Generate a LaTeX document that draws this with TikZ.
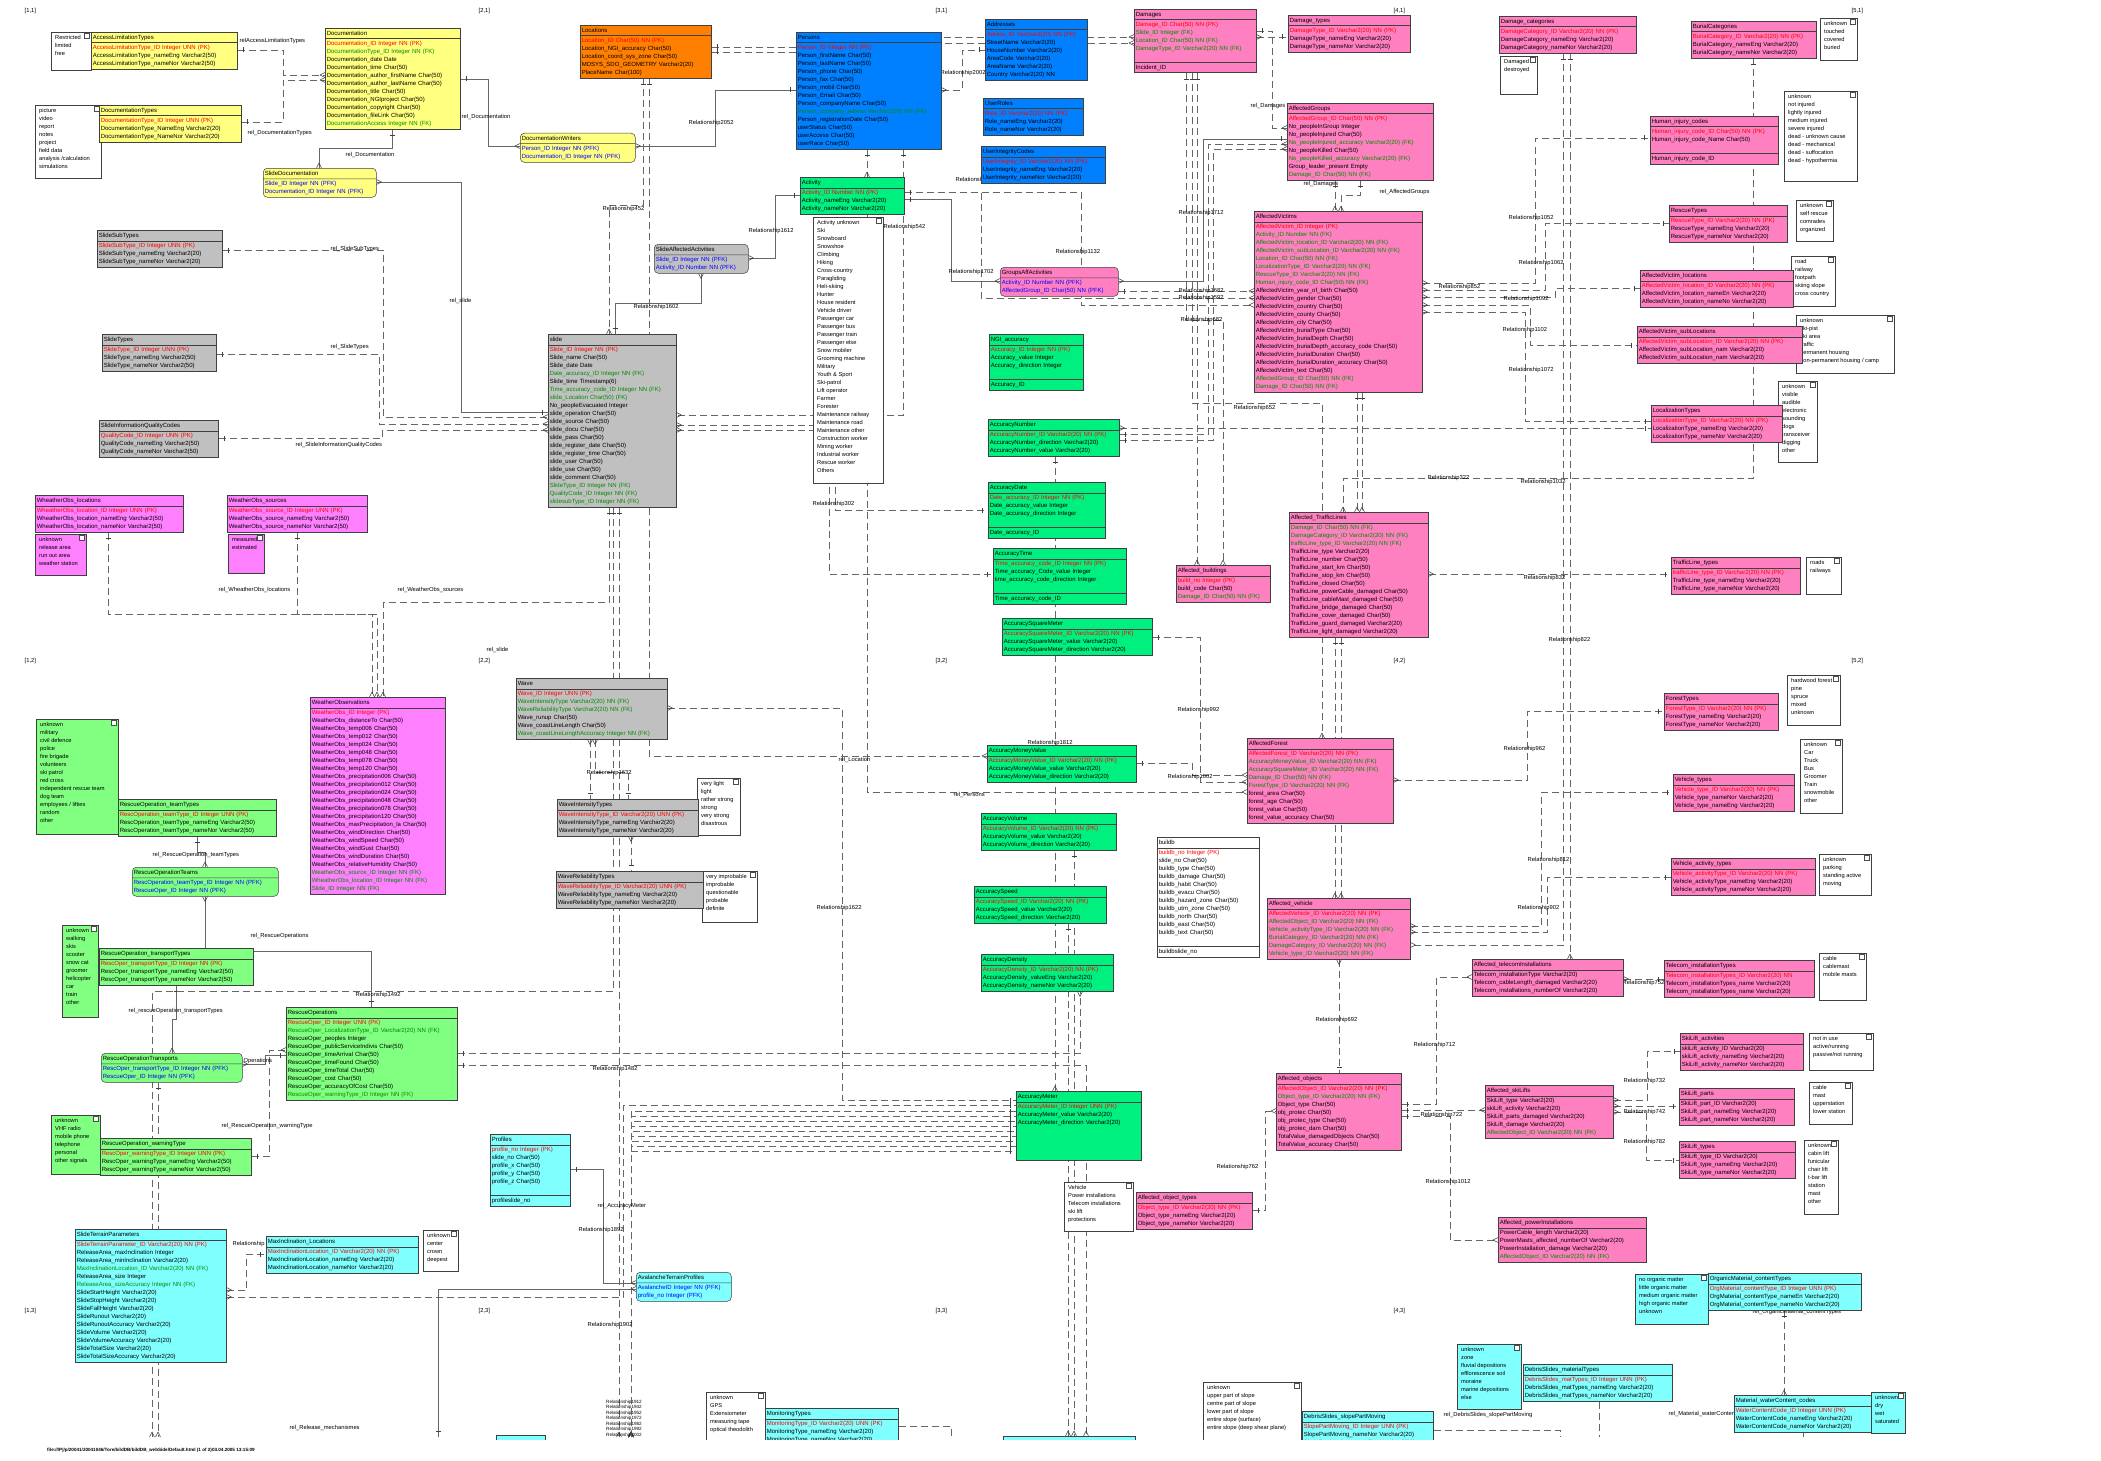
\documentclass[tikz,border=0pt]{standalone}
\usepackage{fontspec}
\setmainfont{Liberation Sans}
\usetikzlibrary{shapes.multipart,backgrounds,decorations.markings}
\definecolor{cY}{HTML}{FFFF80}
\definecolor{cOr}{HTML}{FF8000}
\definecolor{cBu}{HTML}{0080FF}
\definecolor{cG}{HTML}{00F080}
\definecolor{cLG}{HTML}{80FF80}
\definecolor{cPi}{HTML}{FF80C0}
\definecolor{cMa}{HTML}{FF80FF}
\definecolor{cCy}{HTML}{80FFFF}
\definecolor{cGr}{HTML}{C0C0C0}
\definecolor{cPK}{HTML}{FF0000}
\definecolor{cFK}{HTML}{008C00}
\definecolor{cBL}{HTML}{0000FF}
\newcommand\tfont{\fontsize{6}{8}\selectfont}
\newcommand\lfont{\fontsize{5.8}{7}\selectfont}
\newcommand\sfont{\fontsize{4.6}{5.5}\selectfont}
\newcommand\nfont{\fontsize{5.7}{8}\selectfont}
\newcommand\rA[1]{\mbox{\strut#1}}
\newcommand\rP[1]{\mbox{\strut\color{cPK}#1}}
\newcommand\rF[1]{\mbox{\strut\color{cFK}#1}}
\newcommand\rB[1]{\mbox{\strut\color{cBL}#1}}
\newcommand\rE{\mbox{\strut}}
\tikzset{
  tb/.style={rectangle split, rectangle split parts=2, draw=black!75, line width=0.5pt,
    anchor=north west, inner xsep=1.5pt, inner ysep=1pt, align=left, font=\tfont},
  tbk/.style={tb, rectangle split parts=3},
  Y/.style={fill=cY}, Or/.style={fill=cOr}, Bu/.style={fill=cBu}, G/.style={fill=cG},
  LG/.style={fill=cLG}, Pi/.style={fill=cPi}, Ma/.style={fill=cMa}, Cy/.style={fill=cCy},
  Gr/.style={fill=cGr}, W/.style={fill=white},
  rnd/.style={rounded corners=4pt},
  nbox/.style={draw=black!75, line width=0.5pt, anchor=north west, inner sep=0pt, rectangle},
  ntext/.style={anchor=north west, inner sep=0pt, align=left, font=\nfont},
  icon/.style={draw=black!70, fill=white, line width=0.4pt},
  lbl/.style={anchor=west, inner sep=0.5pt, font=\lfont},
  slbl/.style={anchor=west, inner sep=0pt, font=\sfont},
  rel/.style={draw=black!60, line width=0.6pt, dash pattern=on 7pt off 4pt},
  srel/.style={draw=black!60, line width=0.6pt},
  mk/.style={solid, draw=black!75, line width=0.5pt},
  pks/.style={postaction={decorate,decoration={markings,
     mark=at position 6pt with {\draw[mk] (0pt,-2.5pt)--(0pt,2.5pt);},
     mark=at position 1 with {\draw[mk] (-5pt,0pt)--(0pt,2.5pt) (-5pt,0pt)--(0pt,-2.5pt);}}}},
  pke/.style={postaction={decorate,decoration={markings,
     mark=at position 0 with {\draw[mk] (5pt,0pt)--(0pt,2.5pt) (5pt,0pt)--(0pt,-2.5pt);},
     mark=at position -6pt with {\draw[mk] (0pt,-2.5pt)--(0pt,2.5pt);}}}},
}
\newcommand\tbl[7]{\node[tb,#5,text width=#4pt-3pt] (#1) at (#2,#3) {\rA{#6}\nodepart{two}#7};}
\newcommand\tblk[8]{\node[tbk,#5,text width=#4pt-3pt] (#1) at (#2,#3) {\rA{#6}\nodepart{two}#7\nodepart{three}\rA{#8}};}
\newcommand\nte[7]{%
  \node[nbox,fill=#6,minimum width=#4pt,minimum height=#5pt] (#1) at (#2,#3) {};
  \node[ntext] (#1t) at ([xshift=4pt,yshift=-3pt]#1.north west) {#7};
  \draw[icon] ([xshift=-7pt,yshift=-1pt]#1.north east) rectangle ++(5pt,-5pt);}
\newcommand\lab[4]{\node[lbl] (#1) at (#2,#3) {#4};}
\begin{document}
\catcode`\_=12
\begin{tikzpicture}[x=1pt,y=-1pt]
\useasboundingbox (0,0) rectangle (2101,1461);
% ---------------- grid labels and footer
\lab{g11}{24}{11}{[1,1]}\lab{g21}{478}{11}{[2,1]}\lab{g31}{935}{11}{[3,1]}\lab{g41}{1393}{11}{[4,1]}\lab{g51}{1851}{11}{[5,1]}
\lab{g12}{24}{661}{[1,2]}\lab{g22}{478}{661}{[2,2]}\lab{g32}{935}{661}{[3,2]}\lab{g42}{1393}{661}{[4,2]}\lab{g52}{1851}{661}{[5,2]}
\lab{g13}{24}{1311}{[1,3]}\lab{g23}{478}{1311}{[2,3]}\lab{g33}{935}{1311}{[3,3]}\lab{g43}{1393}{1311}{[4,3]}
\node[slbl,font=\sfont\bfseries] (foot) at (47,1450) {file:///P|/p/20041/20041046/Tore/bildDB/bildDB_webSide/Default.html (1 of 2)03.04.2005 13:15:09};
% ---------------- connector labels
\lab{l1}{239}{41}{relAccessLimitationTypes}
\lab{l2}{247}{133}{rel_DocumentationTypes}
\lab{l3}{461}{117}{rel_Documentation}
\lab{l4}{345}{155}{rel_Documentation}
\lab{l5}{449}{301}{rel_slide}
\lab{l6}{330}{249}{rel_SlideSubTypes}
\lab{l7}{330}{347}{rel_SlideTypes}
\lab{l8}{295}{445}{rel_SlideInformationQualityCodes}
\lab{l9}{688}{123}{Relationship2052}
\lab{l10}{602}{209}{Relationship452}
\lab{l11}{748}{231}{Relationship1612}
\lab{l12}{883}{227}{Relationship542}
\lab{l13}{633}{307}{Relationship1602}
\lab{l14}{948}{272}{Relationship1702}
\lab{l15}{940}{73}{Relationship2002}
\lab{l16}{955}{180}{Relationship}
\lab{l17}{1250}{106}{rel_Damages}
\lab{l18}{1303}{184}{rel_Damages}
\lab{l19}{1379}{192}{rel_AffectedGroups}
\lab{l20}{1178}{213}{Relationship1712}
\lab{l21}{1055}{252}{Relationship1132}
\lab{l22}{1178}{291}{Relationship1682}
\lab{l23}{1178}{298}{Relationship1592}
\lab{l24}{1180}{320}{Relationship682}
\lab{l25}{1233}{408}{Relationship652}
\lab{l26}{1508}{218}{Relationship1052}
\lab{l27}{1518}{263}{Relationship1062}
\lab{l28}{1438}{287}{Relationship852}
\lab{l29}{1503}{299}{Relationship1092}
\lab{l30}{1502}{330}{Relationship1102}
\lab{l31}{1508}{370}{Relationship1072}
\lab{l32}{1427}{478}{Relationship322}
\lab{l33}{1520}{482}{Relationship1032}
\lab{l34}{812}{504}{Relationship302}
\lab{l35}{1523}{578}{Relationship832}
\lab{l36}{1548}{640}{Relationship822}
\lab{l37}{1177}{710}{Relationship992}
\lab{l38}{1503}{749}{Relationship962}
\lab{l39}{1167}{777}{Relationship1002}
\lab{l40}{1527}{860}{Relationship812}
\lab{l41}{1517}{908}{Relationship902}
\lab{l42}{838}{760}{rel_Location}
\lab{l43}{953}{795}{rel_Persons}
\lab{l44}{586}{773}{Relationship1632}
\lab{l45}{816}{908}{Relationship1622}
\lab{l46}{1027}{743}{Relationship1812}
\lab{l47}{218}{590}{rel_WheatherObs_locations}
\lab{l48}{397}{590}{rel_WeatherObs_sources}
\lab{l49}{486}{650}{rel_slide}
\lab{l50}{152}{855}{rel_RescueOperation_teamTypes}
\lab{l51}{250}{936}{rel_RescueOperations}
\lab{l52}{128}{1011}{rel_rescueOperation_transportTypes}
\lab{l53}{355}{995}{Relationship1492}
\lab{l54}{243}{1061}{Operations}
\lab{l55}{221}{1126}{rel_RescueOperation_warningType}
\lab{l56}{232}{1244}{Relationship}
\lab{l57}{289}{1428}{rel_Release_mechanismes}
\lab{l58}{592}{1069}{Relationship1482}
\lab{l59}{597}{1206}{rel_AccuracyMeter}
\lab{l60}{578}{1230}{Relationship1892}
\lab{l61}{587}{1325}{Relationship1902}
\node[slbl] (s1) at (606,1402) {Relationship1912};
\node[slbl] (s2) at (606,1407.5) {Relationship1942};
\node[slbl] (s3) at (606,1413) {Relationship1952};
\node[slbl] (s4) at (606,1418.5) {Relationship1972};
\node[slbl] (s5) at (606,1424) {Relationship1982};
\node[slbl] (s6) at (606,1429.5) {Relationship1992};
\node[slbl] (s7) at (606,1435) {Relationship2002};
\lab{l62}{1315}{1020}{Relationship692}
\lab{l63}{1413}{1045}{Relationship712}
\lab{l64}{1420}{1115}{Relationship722}
\lab{l65}{1425}{1182}{Relationship1012}
\lab{l66}{1216}{1167}{Relationship762}
\lab{l67}{1622}{983}{Relationship752}
\lab{l68}{1623}{1081}{Relationship732}
\lab{l69}{1623}{1112}{Relationship742}
\lab{l70}{1623}{1142}{Relationship782}
\lab{l71}{1752}{1312}{rel_OrganicMaterial_contentTypes}
\lab{l72}{1668}{1414}{rel_Material_waterContent_codes}
\lab{l73}{1443}{1415}{rel_DebrisSlides_slopePartMoving}
% ---------------- notes
\nte{n1}{51}{32}{40}{38}{white}{Restricted\\limited\\free}
\nte{n2}{35}{105}{66}{73}{white}{picture\\video\\report\\notes\\project\\field data\\analysis /calculation\\simulations}
\nte{n3}{813}{217}{70}{266}{white}{Activity unknown\\Ski\\Snowboard\\Snowshoe\\Climbing\\Hiking\\Cross-country\\Paragliding\\Heli-skiing\\Hunter\\House resident\\Vehicle driver\\Passenger car\\Passenger bus\\Passenger train\\Passenger else\\Snow mobiler\\Grooming machine\\Military\\Youth \& Sport\\Ski-patrol\\Lift operator\\Farmer\\Forester\\Maintenance railway\\Maintenance road\\Maintenance other\\Construction worker\\Mining worker\\Industrial worker\\Rescue worker\\Others}
\nte{n4}{1500}{56}{37}{38}{white}{Damaged\\destroyed}
\nte{n5}{1820}{18}{37}{42}{white}{unknown\\touched\\covered\\buried}
\nte{n6}{1784}{91}{73}{90}{white}{unknown\\not injured\\lightly injured\\medium injured\\severe injured\\dead - unknown cause\\dead - mechanical\\dead - suffocation\\dead - hypothermia}
\nte{n7}{1796}{200}{37}{41}{white}{unknown\\self rescue\\comrades\\organized}
\nte{n8}{1791}{256}{44}{50}{white}{road\\railway\\footpath\\skiing slope\\cross country}
\nte{n9}{1796}{315}{98}{58}{white}{unknown\\ski-pist\\ski area\\traffic\\permanent housing\\non-permanent housing / camp}
\nte{n10}{1778}{381}{39}{81}{white}{unknown\\visible\\audible\\electronic\\sounding\\dogs\\transceiver\\digging\\other}
\nte{n11}{35}{534}{51}{41}{cMa}{unknown\\release area\\run out area\\weather station}
\nte{n12}{228}{534}{36}{39}{cMa}{measured\\estimated}
\nte{n13}{36}{719}{82}{115}{cLG}{unknown\\military\\civil defence\\police\\fire brigade\\volunteers\\ski patrol\\red cross\\independent rescue team\\dog team\\employees / lifties\\random\\other}
\nte{n14}{62}{925}{36}{92}{cLG}{unknown\\walking\\skis\\scooter\\snow cat\\groomer\\helicopter\\car\\train\\other}
\nte{n15}{51}{1115}{49}{59}{cLG}{unknown\\VHF radio\\mobile phone\\telephone\\personal\\other signals}
\nte{n16}{423}{1230}{35}{41}{white}{unknown\\center\\crown\\deepest}
\nte{n17}{697}{778}{43}{57}{white}{very light\\light\\rather strong\\strong\\very strong\\disastrous}
\nte{n18}{702}{871}{55}{51}{white}{very improbable\\improbable\\questionable\\probable\\definite}
\nte{n19}{1806}{557}{35}{37}{white}{roads\\railways}
\nte{n20}{1787}{675}{53}{50}{white}{hardwood forest\\pine\\spruce\\mixed\\unknown}
\nte{n21}{1800}{739}{42}{74}{white}{unknown\\Car\\Truck\\Bus\\Groomer\\Train\\snowmobile\\other}
\nte{n22}{1819}{854}{52}{41}{white}{unknown\\parking\\standing active\\moving}
\nte{n23}{1819}{953}{47}{47}{white}{cable\\cablemast\\mobile masts}
\nte{n24}{1064}{1182}{69}{49}{white}{Vehicle\\Power installations\\Telecom installations\\ski lift\\protections}
\nte{n25}{1809}{1033}{64}{37}{white}{not in use\\active/running\\passive/not running}
\nte{n26}{1809}{1082}{43}{42}{white}{cable\\mast\\upperstation\\lower station}
\nte{n27}{1804}{1140}{34}{74}{white}{unknown\\cabin lift\\funicular\\chair lift\\t-bar lift\\station\\mast\\other}
\nte{n28}{1635}{1274}{73}{50}{cCy}{no organic matter\\little organic matter\\medium organic matter\\high organic matter\\unknown}
\nte{n29}{1457}{1344}{64}{65}{cCy}{unknown\\zone\\fluvial depositions\\efflorescence soil\\moraine\\marine depositions\\else}
\nte{n30}{1871}{1392}{34}{41}{cCy}{unknown\\dry\\wet\\saturated}
% ---------------- tables
\tbl{acclim}{91}{32}{146}{Y}{AccessLimitationTypes}{\rP{AccessLimitationType_ID Integer UNN (PK)}\\\rA{AccessLimitationType_nameEng Varchar2(50)}\\\rA{AccessLimitationType_nameNor Varchar2(50)}}
\tbl{doc}{325}{28}{135}{Y}{Documentation}{\rP{Documentation_ID Integer NN (PK)}\\\rF{DocumentationType_ID Integer NN (FK)}\\\rA{Documentation_date Date}\\\rA{Documentation_time Char(50)}\\\rA{Documentation_author_firstName Char(50)}\\\rA{Documentation_author_lastName Char(50)}\\\rA{Documentation_title Char(50)}\\\rA{Documentation_NGIproject Char(50)}\\\rA{Documentation_copyright Char(50)}\\\rA{Documentation_fileLink Char(50)}\\\rF{DocumentationAccess Integer NN (FK)}}
\tbl{doctypes}{99}{105}{142}{Y}{DocumentationTypes}{\rP{DocumentationType_ID Integer UNN (PK)}\\\rA{DocumentationType_NameEng Varchar2(20)}\\\rA{DocumentationType_NameNor Varchar2(20)}}
\tbl{slidedoc}{263}{168}{113}{Y,rnd}{SlideDocumentation}{\rB{Slide_ID Integer NN (PFK)}\\\rB{Documentation_ID Integer NN (PFK)}}
\tbl{docwriters}{520}{133}{115}{Y,rnd}{DocumentationWriters}{\rB{Person_ID Integer NN (PFK)}\\\rB{Documentation_ID Integer NN (PFK)}}
\tbl{slidesub}{97}{230}{125}{Gr}{SlideSubTypes}{\rP{SlideSubType_ID Integer UNN (PK)}\\\rA{SlideSubType_nameEng Varchar2(20)}\\\rA{SlideSubType_nameNor Varchar2(20)}}
\tbl{slidetypes}{102}{334}{114}{Gr}{SlideTypes}{\rP{SlideType_ID Integer UNN (PK)}\\\rA{SlideType_nameEng Varchar2(50)}\\\rA{SlideType_nameNor Varchar2(50)}}
\tbl{quality}{99}{420}{119}{Gr}{SlideInformationQualityCodes}{\rP{QualityCode_ID Integer UNN (PK)}\\\rA{QualityCode_nameEng Varchar2(50)}\\\rA{QualityCode_nameNor Varchar2(50)}}
\tbl{loc}{580}{25}{131}{Or}{Locations}{\rP{Location_ID Char(50) NN (PK)}\\\rA{Location_NGI_accuracy Char(50)}\\\rA{Location_coord_sys_zone Char(50)}\\\rA{MDSYS_SDO_GEOMETRY Varchar2(20)}\\\rA{PlaceName Char(100)}}
\tbl{persons}{796}{32}{145}{Bu}{Persons}{\rP{Person_ID Integer NN (PK)}\\\rA{Person_firstName Char(50)}\\\rA{Person_lastName Char(50)}\\\rA{Person_phone Char(50)}\\\rA{Person_fax Char(50)}\\\rA{Person_mobil Char(50)}\\\rA{Person_Email Char(50)}\\\rA{Person_companyName Char(50)}\\\rF{Person_company_adress Varchar2(20) NN (FK)}\\\rA{Person_registrationDate Char(50)}\\\rA{userStatus Char(50)}\\\rA{userAccess Char(50)}\\\rA{userRace Char(50)}}
\tbl{addr}{985}{19}{102}{Bu}{Addresses}{\rP{Adress_ID Varchar2(20) NN (PK)}\\\rA{StreetName Varchar2(20)}\\\rA{HouseNumber Varchar2(20)}\\\rA{AreaCode Varchar2(20)}\\\rA{AreaName Varchar2(20)}\\\rA{Country Varchar2(20) NN}}
\tbl{roles}{983}{98}{100}{Bu}{UserRoles}{\rP{Role_ID Varchar2(20) NN (PK)}\\\rA{Role_nameEng Varchar2(20)}\\\rA{Role_nameNor Varchar2(20)}}
\tbl{integ}{981}{146}{124}{Bu}{UserIntegrityCodes}{\rP{UserIntegrity_ID Varchar2(20) NN (PK)}\\\rA{UserIntegrity_nameEng Varchar2(20)}\\\rA{UserIntegrity_nameNor Varchar2(20)}}
\tbl{activity}{800}{177}{104}{G}{Activity}{\rP{Activity_ID Number NN (PK)}\\\rA{Activity_nameEng Varchar2(20)}\\\rA{Activity_nameNor Varchar2(20)}}
\tbl{slideact}{654}{244}{94}{Gr,rnd}{SlideAffectedActivities}{\rB{Slide_ID Integer NN (PFK)}\\\rB{Activity_ID Number NN (PFK)}}
\tbl{slide}{548}{334}{128}{Gr}{slide}{\rP{Slide_ID Integer NN (PK)}\\\rA{Slide_name Char(50)}\\\rA{Slide_date Date}\\\rF{Date_accuracy_ID Integer NN (FK)}\\\rA{Slide_time Timestamp(6)}\\\rF{Time_accuracy_code_ID Integer NN (FK)}\\\rF{slide_Location Char(50) (FK)}\\\rA{No_peopleEvacuated Integer}\\\rA{slide_operation Char(50)}\\\rA{slide_source Char(50)}\\\rA{slide_docu Char(50)}\\\rA{slide_pass Char(50)}\\\rA{slide_register_date Char(50)}\\\rA{slide_register_time Char(50)}\\\rA{slide_user Char(50)}\\\rA{slide_use Char(50)}\\\rA{slide_comment Char(50)}\\\rF{SlideType_ID Integer NN (FK)}\\\rF{QualityCode_ID Integer NN (FK)}\\\rF{slidesubType_ID Integer NN (FK)}}
\tbl{groupsact}{1000}{267}{118}{Pi,rnd}{GroupsAffActivities}{\rB{Activity_ID Number NN (PFK)}\\\rB{AffectedGroup_ID Char(50) NN (PFK)}}
\tblk{ngi}{989}{334}{94}{G}{NGI_accuracy}{\rP{Accuracy_ID Integer NN (PK)}\\\rA{Accuracy_value Integer}\\\rA{Accuracy_direction Integer}\\\rE}{Accuracy_ID}
\tbl{accnum}{988}{419}{131}{G}{AccuracyNumber}{\rP{AccuracyNumber_ID Varchar2(20) NN (PK)}\\\rA{AccuracyNumber_direction Varchar2(20)}\\\rA{AccuracyNumber_value Varchar2(20)}}
\tblk{accdate}{988}{482}{117}{G}{AccuracyDate}{\rP{Date_accuracy_ID Integer NN (PK)}\\\rA{Date_accuracy_value Integer}\\\rA{Date_accuracy_direction Integer}\\\rE}{Date_accuracy_ID}
\tblk{acctime}{993}{548}{133}{G}{AccuracyTime}{\rP{Time_accuracy_code_ID Integer NN (PK)}\\\rA{Time_accuracy_Code_value Integer}\\\rA{time_accuracy_code_direction Integer}\\\rE}{Time_accuracy_code_ID}
\tbl{accsqm}{1002}{618}{150}{G}{AccuracySquareMeter}{\rP{AccuracySquareMeter_ID Varchar2(20) NN (PK)}\\\rA{AccuracySquareMeter_value Varchar2(20)}\\\rA{AccuracySquareMeter_direction Varchar2(20)}}
\tbl{accmoney}{987}{745}{149}{G}{AccuracyMoneyValue}{\rP{AccuracyMoneyValue_ID Varchar2(20) NN (PK)}\\\rA{AccuracyMoneyValue_value Varchar2(20)}\\\rA{AccuracyMoneyValue_direction Varchar2(20)}}
\tbl{accvol}{981}{813}{135}{G}{AccuracyVolume}{\rP{AccuracyVolume_ID Varchar2(20) NN (PK)}\\\rA{AccuracyVolume_value Varchar2(20)}\\\rA{AccuracyVolume_direction Varchar2(20)}}
\tbl{accspeed}{974}{886}{132}{G}{AccuracySpeed}{\rP{AccuracySpeed_ID Varchar2(20) NN (PK)}\\\rA{AccuracySpeed_value Varchar2(20)}\\\rA{AccuracySpeed_direction Varchar2(20)}}
\tbl{accdens}{981}{954}{132}{G}{AccuracyDensity}{\rP{AccuracyDensity_ID Varchar2(20) NN (PK)}\\\rA{AccuracyDensity_valueEng Varchar2(20)}\\\rA{AccuracyDensity_nameNor Varchar2(20)}}
\tbl{accmeter}{1016}{1091}{125}{G}{AccuracyMeter}{\rP{AccuracyMeter_ID Integer UNN (PK)}\\\rA{AccuracyMeter_value Varchar2(20)}\\\rA{AccuracyMeter_direction Varchar2(20)}\\\rE\\\rE\\\rE\\\rE}
\tblk{damages}{1134}{9}{122}{Pi}{Damages}{\rP{Damage_ID Char(50) NN (PK)}\\\rF{Slide_ID Integer (FK)}\\\rF{Location_ID Char(50) NN (FK)}\\\rF{DamageType_ID Varchar2(20) NN (FK)}\\\rE}{Incident_ID}
\tbl{dtypes}{1288}{15}{122}{Pi}{Damage_types}{\rP{DamageType_ID Varchar2(20) NN (PK)}\\\rA{DamageType_nameEng Varchar2(20)}\\\rA{DamageType_nameNor Varchar2(20)}}
\tbl{dcats}{1499}{16}{137}{Pi}{Damage_categories}{\rP{DamageCategory_ID Varchar2(20) NN (PK)}\\\rA{DamageCategory_nameEng Varchar2(20)}\\\rA{DamageCategory_nameNor Varchar2(20)}}
\tbl{burial}{1691}{21}{125}{Pi}{BurialCategories}{\rP{BurialCategory_ID Varchar2(20) NN (PK)}\\\rA{BurialCategory_nameEng Varchar2(20)}\\\rA{BurialCategory_nameNor Varchar2(20)}}
\tbl{agroups}{1287}{103}{146}{Pi}{AffectedGroups}{\rP{AffectedGroup_ID Char(50) NN (PK)}\\\rA{No_peopleInGroup Integer}\\\rA{No_peopleInjured Char(50)}\\\rF{No_peopleInjured_accuracy Varchar2(20) (FK)}\\\rA{No_peopleKilled Char(50)}\\\rF{No_peopleKilled_accuracy Varchar2(20) (FK)}\\\rA{Group_leader_present Empty}\\\rF{Damage_ID Char(50) NN (FK)}}
\tbl{victims}{1254}{211}{168}{Pi}{AffectedVictims}{\rP{AffectedVictim_ID Integer (PK)}\\\rF{Activity_ID Number NN (FK)}\\\rF{AffectedVictim_location_ID Varchar2(20) NN (FK)}\\\rF{AffectedVictim_subLocation_ID Varchar2(20) NN (FK)}\\\rF{Location_ID Char(50) NN (FK)}\\\rF{LocalizationType_ID Varchar2(20) NN (FK)}\\\rF{RescueType_ID Varchar2(20) NN (FK)}\\\rF{Human_injury_code_ID Char(50) NN (FK)}\\\rA{AffectedVictim_year_of_birth Char(50)}\\\rA{AffectedVictim_gender Char(50)}\\\rA{AffectedVictim_country Char(50)}\\\rA{AffectedVictim_county Char(50)}\\\rA{AffectedVictim_city Char(50)}\\\rA{AffectedVictim_burialType Char(50)}\\\rA{AffectedVictim_burialDepth Char(50)}\\\rA{AffectedVictim_burialDepth_accuracy_code Char(50)}\\\rA{AffectedVictim_burialDuration Char(50)}\\\rA{AffectedVictim_burialDuration_accuracy Char(50)}\\\rA{AffectedVictim_text Char(50)}\\\rF{AffectedGroup_ID Char(50) NN (FK)}\\\rF{Damage_ID Char(50) NN (FK)}}
\tblk{hic}{1650}{116}{128}{Pi}{Human_injury_codes}{\rP{Human_injury_code_ID Char(50) NN (PK)}\\\rA{Human_injury_code_Name Char(50)}\\\rE}{Human_injury_code_ID}
\tbl{rtypes}{1669}{205}{118}{Pi}{RescueTypes}{\rP{RescueType_ID Varchar2(20) NN (PK)}\\\rA{RescueType_nameEng Varchar2(20)}\\\rA{RescueType_nameNor Varchar2(20)}}
\tbl{avloc}{1640}{270}{153}{Pi}{AffectedVictim_locations}{\rP{AffectedVictim_location_ID Varchar2(20) NN (PK)}\\\rA{AffectedVictim_location_nameEn Varchar2(20)}\\\rA{AffectedVictim_location_nameNo Varchar2(20)}}
\tbl{avsub}{1637}{326}{165}{Pi}{AffectedVictim_subLocations}{\rP{AffectedVictim_subLocation_ID Varchar2(20) NN (PK)}\\\rA{AffectedVictim_subLocation_nam Varchar2(20)}\\\rA{AffectedVictim_subLocation_nam Varchar2(20)}}
\tbl{loctypes}{1651}{405}{131}{Pi}{LocalizationTypes}{\rP{LocalizationType_ID Varchar2(20) NN (PK)}\\\rA{LocalizationType_nameEng Varchar2(20)}\\\rA{LocalizationType_nameNor Varchar2(20)}}
\tbl{traffic}{1289}{512}{139}{Pi}{Affected_TrafficLines}{\rF{Damage_ID Char(50) NN (FK)}\\\rF{DamageCategory_ID Varchar2(20) NN (FK)}\\\rF{trafficLine_type_ID Varchar2(20) NN (FK)}\\\rA{TrafficLine_type Varchar2(20)}\\\rA{TrafficLine_number Char(50)}\\\rA{TrafficLine_start_km Char(50)}\\\rA{TrafficLine_stop_km Char(50)}\\\rA{TrafficLine_closed Char(50)}\\\rA{TrafficLine_powerCable_damaged Char(50)}\\\rA{TrafficLine_cableMast_damaged Char(50)}\\\rA{TrafficLine_bridge_damaged Char(50)}\\\rA{TrafficLine_cover_damaged Char(50)}\\\rA{TrafficLine_guard_damaged Varchar2(20)}\\\rA{TrafficLine_light_damaged Varchar2(20)}}
\tbl{buildings}{1176}{565}{94}{Pi}{Affected_buildings}{\rP{build_no Integer (PK)}\\\rA{build_code Char(50)}\\\rF{Damage_ID Char(50) NN (FK)}}
\tbl{tltypes}{1671}{557}{129}{Pi}{TrafficLine_types}{\rP{trafficLine_type_ID Varchar2(20) NN (PK)}\\\rA{TrafficLine_type_nameEng Varchar2(20)}\\\rA{TrafficLine_type_nameNor Varchar2(20)}}
\tbl{forest}{1247}{738}{146}{Pi}{AffectedForest}{\rP{AffectedForest_ID Varchar2(20) NN (PK)}\\\rF{AccuracyMoneyValue_ID Varchar2(20) NN (FK)}\\\rF{AccuracySquareMeter_ID Varchar2(20) NN (FK)}\\\rF{Damage_ID Char(50) NN (FK)}\\\rF{ForestType_ID Varchar2(20) NN (FK)}\\\rA{forest_area Char(50)}\\\rA{forest_age Char(50)}\\\rA{forest_value Char(50)}\\\rA{forest_value_accuracy Char(50)}}
\tbl{ftypes}{1664}{693}{114}{Pi}{ForestTypes}{\rP{ForestType_ID Varchar2(20) NN (PK)}\\\rA{ForestType_nameEng Varchar2(20)}\\\rA{ForestType_nameNor Varchar2(20)}}
\tblk{buildb}{1157}{837}{102}{W}{buildb}{\rP{buildb_no Integer (PK)}\\\rA{slide_no Char(50)}\\\rA{buildb_type Char(50)}\\\rA{buildb_damage Char(50)}\\\rA{buildb_habit Char(50)}\\\rA{buildb_evacu Char(50)}\\\rA{buildb_hazard_zone Char(50)}\\\rA{buildb_utm_zone Char(50)}\\\rA{buildb_north Char(50)}\\\rA{buildb_east Char(50)}\\\rA{buildb_text Char(50)}\\\rE}{buildbslide_no}
\tbl{vehicle}{1267}{898}{143}{Pi}{Affected_vehicle}{\rP{AffectedVehicle_ID Varchar2(20) NN (PK)}\\\rF{AffectedObject_ID Varchar2(20) NN (FK)}\\\rF{Vehicle_activityType_ID Varchar2(20) NN (FK)}\\\rF{BurialCategory_ID Varchar2(20) NN (FK)}\\\rF{DamageCategory_ID Varchar2(20) NN (FK)}\\\rF{Vehicle_type_ID Varchar2(20) NN (FK)}}
\tbl{vtypes}{1673}{774}{121}{Pi}{Vehicle_types}{\rP{Vehicle_type_ID Varchar2(20) NN (PK)}\\\rA{Vehicle_type_nameNor Varchar2(20)}\\\rA{Vehicle_type_nameEng Varchar2(20)}}
\tbl{vatypes}{1671}{858}{144}{Pi}{Vehicle_activity_types}{\rP{Vehicle_activityType_ID Varchar2(20) NN (PK)}\\\rA{Vehicle_activityType_nameEng Varchar2(20)}\\\rA{Vehicle_activityType_nameNor Varchar2(20)}}
\tbl{telecom}{1472}{959}{151}{Pi}{Affected_telecomInstallations}{\rA{Telecom_installationType Varchar2(20)}\\\rA{Telecom_cableLength_damaged Varchar2(20)}\\\rA{Telecom_installations_numberOf Varchar2(20)}}
\tbl{teltypes}{1664}{960}{150}{Pi}{Telecom_installationTypes}{\rP{Telecom_installationTypes_ID Varchar2(20) NN}\\\rA{Telecom_installationTypes_name Varchar2(20)}\\\rA{Telecom_installationTypes_name Varchar2(20)}}
\tbl{objects}{1276}{1073}{125}{Pi}{Affected_objects}{\rP{AffectedObject_ID Varchar2(20) NN (PK)}\\\rF{Object_type_ID Varchar2(20) NN (FK)}\\\rA{Object_type Char(50)}\\\rA{obj_protec Char(50)}\\\rA{obj_protec_type Char(50)}\\\rA{obj_protec_dam Char(50)}\\\rA{TotalValue_damagedObjects Char(50)}\\\rA{TotalValue_accuracy Char(50)}}
\tbl{objtypes}{1136}{1192}{116}{Pi}{Affected_object_types}{\rP{Object_type_ID Varchar2(20) NN (PK)}\\\rA{Object_type_nameEng Varchar2(20)}\\\rA{Object_type_nameNor Varchar2(20)}}
\tbl{skilifts}{1485}{1085}{128}{Pi}{Affected_skiLifts}{\rA{SkiLift_type Varchar2(20)}\\\rA{skiLift_activity Varchar2(20)}\\\rA{SkiLift_parts_damaged Varchar2(20)}\\\rA{SkiLift_damage Varchar2(20)}\\\rF{AffectedObject_ID Varchar2(20) NN (FK)}}
\tbl{power}{1498}{1217}{148}{Pi}{Affected_powerInstallations}{\rA{PowerCable_length Varchar2(20)}\\\rA{PowerMasts_affected_numberOf Varchar2(20)}\\\rA{PowerInstallation_damage Varchar2(20)}\\\rF{AffectedObject_ID Varchar2(20) NN (FK)}}
\tbl{slact}{1680}{1033}{123}{Pi}{SkiLift_activities}{\rA{skiLift_activity_ID Varchar2(20)}\\\rA{skiLift_activity_nameEng Varchar2(20)}\\\rA{SkiLift_activity_nameNor Varchar2(20)}}
\tbl{slparts}{1679}{1088}{115}{Pi}{SkiLift_parts}{\rA{SkiLift_part_ID Varchar2(20)}\\\rA{SkiLift_part_nameEng Varchar2(20)}\\\rA{SkiLift_part_nameNor Varchar2(20)}}
\tbl{sltypes}{1679}{1141}{116}{Pi}{SkiLift_types}{\rA{SkiLift_type_ID Varchar2(20)}\\\rA{SkiLift_type_nameEng Varchar2(20)}\\\rA{SkiLift_type_nameNor Varchar2(20)}}
\tbl{wlocs}{35}{495}{148}{Ma}{WheatherObs_locations}{\rP{WheatherObs_location_ID Integer UNN (PK)}\\\rA{WheatherObs_location_nameEng Varchar2(50)}\\\rA{WheatherObs_location_nameNor Varchar2(50)}}
\tbl{wsrc}{227}{495}{140}{Ma}{WeatherObs_sources}{\rP{WeatherObs_source_ID Integer UNN (PK)}\\\rA{WeatherObs_source_nameEng Varchar2(50)}\\\rA{WeatherObs_source_nameNor Varchar2(50)}}
\tbl{wobs}{310}{697}{135}{Ma}{WeatherObservations}{\rP{WeatherObs_ID Integer (PK)}\\\rA{WeatherObs_distanceTo Char(50)}\\\rA{WeatherObs_temp006 Char(50)}\\\rA{WeatherObs_temp012 Char(50)}\\\rA{WeatherObs_temp024 Char(50)}\\\rA{WeatherObs_temp048 Char(50)}\\\rA{WeatherObs_temp078 Char(50)}\\\rA{WeatherObs_temp120 Char(50)}\\\rA{WeatherObs_precipitation006 Char(50)}\\\rA{WeatherObs_precipitation012 Char(50)}\\\rA{WeatherObs_precipitation024 Char(50)}\\\rA{WeatherObs_precipitation048 Char(50)}\\\rA{WeatherObs_precipitation078 Char(50)}\\\rA{WeatherObs_precipitation120 Char(50)}\\\rA{WeatherObs_maxPrecipitation_la Char(50)}\\\rA{WeatherObs_windDirection Char(50)}\\\rA{WeatherObs_windSpeed Char(50)}\\\rA{WeatherObs_windGust Char(50)}\\\rA{WeatherObs_windDuration Char(50)}\\\rA{WeatherObs_relativeHumidity Char(50)}\\\rF{WeatherObs_source_ID Integer NN (FK)}\\\rF{WheatherObs_location_ID Integer NN (FK)}\\\rF{Slide_ID Integer NN (FK)}}
\tbl{teamtypes}{118}{799}{158}{LG}{RescueOperation_teamTypes}{\rP{RescOperation_teamType_ID Integer UNN (PK)}\\\rA{RescOperation_teamType_nameEng Varchar2(50)}\\\rA{RescOperation_teamType_nameNor Varchar2(50)}}
\tbl{teams}{132}{867}{146}{LG,rnd}{RescueOperationTeams}{\rB{RescOperation_teamType_ID Integer NN (PFK)}\\\rB{RescueOper_ID Integer NN (PFK)}}
\tbl{transtypes}{99}{948}{154}{LG}{RescueOperation_transportTypes}{\rP{RescOper_transportType_ID Integer NN (PK)}\\\rA{RescOper_transportType_nameEng Varchar2(50)}\\\rA{RescOper_transportType_nameNor Varchar2(50)}}
\tbl{rescops}{286}{1007}{171}{LG}{RescueOperations}{\rP{RescueOper_ID Integer UNN (PK)}\\\rF{RescueOper_LocalizationType_ID Varchar2(20) NN (FK)}\\\rA{RescueOper_peoples Integer}\\\rA{RescueOper_publicServiceIndivis Char(50)}\\\rA{RescueOper_timeArrival Char(50)}\\\rA{RescueOper_timeFound Char(50)}\\\rA{RescueOper_timeTotal Char(50)}\\\rA{RescueOper_cost Char(50)}\\\rA{RescueOper_accuracyOfCost Char(50)}\\\rF{RescueOper_warningType_ID Integer NN (FK)}}
\tbl{transports}{101}{1053}{141}{LG,rnd}{RescueOperationTransports}{\rB{RescOper_transportType_ID Integer NN (PFK)}\\\rB{RescueOper_ID Integer NN (PFK)}}
\tbl{warn}{100}{1138}{151}{LG}{RescueOperation_warningType}{\rP{RescOper_warningType_ID Integer UNN (PK)}\\\rA{RescOper_warningType_nameEng Varchar2(50)}\\\rA{RescOper_warningType_nameNor Varchar2(50)}}
\tbl{terrain}{75}{1229}{151}{Cy}{SlideTerrainParameters}{\rP{SlideTerrainParameter_ID Varchar2(20) NN (PK)}\\\rA{ReleaseArea_maxInclination Integer}\\\rA{ReleaseArea_minInclination Varchar2(20)}\\\rF{MaxInclinationLocation_ID Varchar2(20) NN (FK)}\\\rA{ReleaseArea_size Integer}\\\rF{ReleaseArea_sizeAccuracy Integer NN (FK)}\\\rA{SlideStartHeight Varchar2(20)}\\\rA{SlideStopHeight Varchar2(20)}\\\rA{SlideFallHeight Varchar2(20)}\\\rA{SlideRunout Varchar2(20)}\\\rA{SlideRunoutAccuracy Varchar2(20)}\\\rA{SlideVolume Varchar2(20)}\\\rA{SlideVolumeAccuracy Varchar2(20)}\\\rA{SlideTotalSize Varchar2(20)}\\\rA{SlideTotalSizeAccuracy Varchar2(20)}}
\tbl{maxinc}{266}{1236}{152}{Cy}{MaxInclination_Locations}{\rP{MaxInclinationLocation_ID Varchar2(20) NN (PK)}\\\rA{MaxInclinationLocation_nameEng Varchar2(20)}\\\rA{MaxInclinationLocation_nameNor Varchar2(20)}}
\tblk{profiles}{490}{1134}{80}{Cy}{Profiles}{\rP{profile_no Integer (PK)}\\\rA{slide_no Char(50)}\\\rA{profile_x Char(50)}\\\rA{profile_y Char(50)}\\\rA{profile_z Char(50)}\\\rE}{profileslide_no}
\tbl{atp}{636}{1272}{95}{Cy,rnd}{AvalancheTerrainProfiles}{\rB{AvalancheID Integer NN (PFK)}\\\rB{profile_no Integer (PFK)}}
\tbl{wave}{516}{678}{151}{Gr}{Wave}{\rP{Wave_ID Integer UNN (PK)}\\\rF{WaveIntensityType Varchar2(20) NN (FK)}\\\rF{WaveReliabilityType Varchar2(20) NN (FK)}\\\rA{Wave_runup Char(50)}\\\rA{Wave_coastLineLength Char(50)}\\\rF{Wave_coastLineLengthAccuracy Integer NN (FK)}}
\tbl{witypes}{557}{799}{141}{Gr}{WaveIntensityTypes}{\rP{WaveIntensityType_ID Varchar2(20) UNN (PK)}\\\rA{WaveIntensityType_nameEng Varchar2(20)}\\\rA{WaveIntensityType_nameNor Varchar2(20)}}
\tbl{wrtypes}{556}{871}{147}{Gr}{WaveReliabilityTypes}{\rP{WaveReliabilityType_ID Varchar2(20) UNN (PK)}\\\rA{WaveReliabilityType_nameEng Varchar2(20)}\\\rA{WaveReliabilityType_nameNor Varchar2(20)}}
\tbl{orgtypes}{1708}{1273}{153}{Cy}{OrganicMaterial_contentTypes}{\rP{OrgMaterial_contentType_ID Integer UNN (PK)}\\\rA{OrgMaterial_contentType_nameEn Varchar2(20)}\\\rA{OrgMaterial_contentType_nameNo Varchar2(20)}}
\tbl{debmat}{1523}{1364}{149}{Cy}{DebrisSlides_materialTypes}{\rP{DebrisSlides_matTypes_ID Integer UNN (PK)}\\\rA{DebrisSlides_matTypes_nameEng Varchar2(20)}\\\rA{DebrisSlides_matTypes_nameNor Varchar2(20)}}
\tbl{water}{1734}{1395}{137}{Cy}{Material_waterContent_codes}{\rP{WaterContentCode_ID Integer UNN (PK)}\\\rA{WaterContentCode_nameEng Varchar2(20)}\\\rA{WaterContentCode_nameNor Varchar2(20)}}
% ---------------- items cut by the page bottom
\begin{scope}
\clip (0,0) rectangle (2101,1439);
\nte{n31}{1203}{1382}{98}{70}{white}{unknown\\upper part of slope\\centre part of slope\\lower part of slope\\entire slope (surface)\\entire slope (deep shear plane)}
\nte{n32}{706}{1392}{59}{60}{white}{unknown\\GPS\\Extensiometer\\measuring tape\\optical theodolith}
\tbl{slope}{1302}{1411}{131}{Cy}{DebrisSlides_slopePartMoving}{\rP{SlopePartMoving_ID Integer UNN (PK)}\\\rA{SlopePartMoving_nameNor Varchar2(20)}\\\rA{SlopePartMoving_nameEng Varchar2(20)}}
\tbl{monit}{765}{1408}{133}{Cy}{MonitoringTypes}{\rP{MonitoringType_ID Varchar2(20) UNN (PK)}\\\rA{MonitoringType_nameEng Varchar2(20)}\\\rA{MonitoringType_nameNor Varchar2(20)}}
\tbl{stubA}{496}{1435}{49}{Cy}{~}{\rE}
\tbl{stubB}{1003}{1436}{132}{Cy}{~}{\rE}
\end{scope}
\coordinate (bl1) at (152,1437);
\coordinate (bl2) at (619,1437);
\coordinate (bl3) at (158,1437);
\coordinate (bl4) at (631,1437);
\coordinate (bl5) at (438,1437);
\coordinate (bl6) at (1599,1437);
\coordinate (bl7) at (1803,1437);
\coordinate (bl8) at (951,1437);
\coordinate (bl9) at (1560,1437);
% ---------------- connectors (behind everything)
\begin{pgfonlayer}{background}
\fill[white] (0,0) rectangle (2101,1461);
\draw[rel,pks] (acclim.east |- 0,50) -| (283,75) -- (doc.west |- 0,75);
\draw[rel,pks] (doctypes.east |- 0,122) -| (283,80) -- (doc.west |- 0,80);
\draw[srel,pks] (doc.east |- 0,79) -| (488,146) -- (docwriters.west |- 0,146);
\draw[srel,pks] (doc.south -| 392,0) |- (319,148) -- (slidedoc.north -| 319,0);
\draw[srel,pke] (slidedoc.east |- 0,182) -| (461,412) -- (slide.west |- 0,412);
\draw[rel,pks] (slidesub.east |- 0,250) -| (383,417) -- (slide.west |- 0,417);
\draw[rel,pks] (slidetypes.east |- 0,354) -| (379,424) -- (slide.west |- 0,424);
\draw[rel,pks] (quality.east |- 0,438) -| (382,430) -- (slide.west |- 0,430);
\draw[rel,pks] (loc.south -| 643,0) |- (609,205) -- (slide.north -| 609,0);
\draw[rel,pks] (loc.south -| 649,0) |- (accmoney.west |- 0,756);
\draw[rel,pks] (loc.east |- 0,47) -| (900,37) -- (damages.west |- 0,37);
\draw[rel,pks] (loc.east |- 0,52) -| (905,43) -- (damages.west |- 0,43);
\draw[rel,pke] (persons.east |- 0,90) -| (962,50) -- (addr.west |- 0,50);
\draw[srel,pks] (persons.west |- 0,90) -| (715,146) -- (docwriters.east |- 0,146);
\draw[rel,pks] (persons.south -| 867,0) -- (activity.north -| 867,0);
\draw[rel,pks] (persons.south -| 903,0) |- (slide.east |- 0,415);
\draw[srel,pks] (activity.west |- 0,195) -| (775,258) -- (slideact.east |- 0,258);
\draw[srel,pke] (slideact.south -| 701,0) |- (615,303) -- (slide.north -| 615,0);
\draw[srel,pks] (activity.east |- 0,199) -| (951,281) -- (groupsact.west |- 0,281);
\draw[rel,pks] (activity.east |- 0,192) -| (981,298) -- (victims.west |- 0,298);
\draw[rel,pks] (activity.east |- 0,192) -| (1081,305) -- (victims.west |- 0,305);
\draw[rel,pks] (groupsact.east |- 0,291) -- (victims.west |- 0,291);
\draw[srel,pke] (groupsact.east |- 0,281) -| (1203,139) -- (agroups.west |- 0,139);
\draw[rel,pke] (damages.east |- 0,37) -- (dtypes.west |- 0,37);
\draw[rel,pks] (damages.east |- 0,31) -| (1272,128) -- (agroups.west |- 0,128);
\draw[rel,pks] (damages.south -| 1186,0) |- (1223,320) -- (buildings.north -| 1223,0);
\draw[rel,pks] (damages.south -| 1192,0) |- (1322,403) -- (forest.north -| 1322,0);
\draw[rel,pks] (damages.south -| 1197,0) -- (buildings.north -| 1197,0);
\draw[rel,pks] (agroups.south -| 1335,0) -- (victims.north -| 1335,0);
\draw[rel,pks] (agroups.south -| 1360,0) |- (1341,195) -- (victims.north -| 1341,0);
\draw[rel,pke] (victims.east |- 0,283) -| (1535,138) -- (hic.west |- 0,138);
\draw[rel,pke] (victims.east |- 0,290) -| (1545,223) -- (rtypes.west |- 0,223);
\draw[rel,pke] (victims.east |- 0,297) -| (1555,288) -- (avloc.west |- 0,288);
\draw[rel,pke] (victims.east |- 0,305) -| (1530,345) -- (avsub.west |- 0,345);
\draw[rel,pke] (victims.east |- 0,312) -| (1525,421) -- (loctypes.west |- 0,421);
\draw[rel,pke] (accnum.east |- 0,428) -- (loctypes.west |- 0,428);
\draw[rel,pks] (accnum.east |- 0,434) -| (1208,144) -- (agroups.west |- 0,144);
\draw[rel,pks] (accnum.east |- 0,440) -| (1213,149) -- (agroups.west |- 0,149);
\draw[rel,pks] (burial.south -| 1753,0) |- (1343,478) -- (traffic.north -| 1343,0);
\draw[rel,pks] (dcats.south -| 1570,0) -- (telecom.north -| 1570,0);
\draw[rel,pks] (dcats.south -| 1563,0) |- (vehicle.east |- 0,945);
\draw[rel,pks] (victims.south -| 1357,0) -- (traffic.north -| 1357,0);
\draw[rel,pks] (victims.south -| 1362,0) -- (traffic.north -| 1362,0);
\draw[rel,pks] (traffic.south -| 1335,0) -- (vehicle.north -| 1335,0);
\draw[rel,pks] (traffic.south -| 1341,0) -- (vehicle.north -| 1341,0);
\draw[rel,pke] (traffic.east |- 0,574) -- (tltypes.west |- 0,574);
\draw[rel,pke] (forest.east |- 0,780) -| (1527,711) -- (ftypes.west |- 0,711);
\draw[rel,pke] (vehicle.east |- 0,926) -| (1541,792) -- (vtypes.west |- 0,792);
\draw[rel,pke] (vehicle.east |- 0,932) -| (1547,877) -- (vatypes.west |- 0,877);
\draw[rel,pks] (accmoney.east |- 0,763) -| (1192,775) -- (forest.west |- 0,775);
\draw[rel,pks] (accsqm.east |- 0,637) -| (1200,782) -- (forest.west |- 0,782);
\draw[rel,pke] (vehicle.south -| 1339,0) -- (objects.north -| 1339,0);
\draw[rel,pks] (objects.east |- 0,1104) -| (1436,977) -- (telecom.west |- 0,977);
\draw[rel,pks] (objects.east |- 0,1110) -- (skilifts.west |- 0,1110);
\draw[rel,pks] (objects.east |- 0,1116) -| (1450,1240) -- (power.west |- 0,1240);
\draw[rel,pks] (objtypes.east |- 0,1210) -| (1265,1111) -- (objects.west |- 0,1111);
\draw[rel,pke] (telecom.east |- 0,979) -- (teltypes.west |- 0,979);
\draw[rel,pke] (skilifts.east |- 0,1100) -| (1647,1051) -- (slact.west |- 0,1051);
\draw[rel,pke] (skilifts.east |- 0,1106) -- (slparts.west |- 0,1106);
\draw[rel,pke] (skilifts.east |- 0,1112) -| (1646,1160) -- (sltypes.west |- 0,1160);
\draw[rel,pks] (wlocs.south -| 108,0) |- (372,614) -- (wobs.north -| 372,0);
\draw[rel,pks] (wsrc.south -| 297,0) |- (377,614) -- (wobs.north -| 377,0);
\draw[rel,pks] (slide.south -| 609,0) |- (383,602) -- (wobs.north -| 383,0);
\draw[srel,pks] (teamtypes.south -| 197,0) |- (205,852) -- (teams.north -| 205,0);
\draw[srel,pke] (teams.south -| 205,0) |- (371,951) -- (rescops.north -| 371,0);
\draw[srel,pks] (transtypes.south -| 176,0) |- (172,1019) -- (transports.north -| 172,0);
\draw[srel,pke] (transports.east |- 0,1064) -| (265,1055) -- (rescops.west |- 0,1055);
\draw[rel,pks] (warn.east |- 0,1156) -| (269,1050) -- (rescops.west |- 0,1050);
\draw[rel,pks] (rescops.east |- 0,1053) -| (accdens.south -| 1080,0);
\draw[rel,pks] (rescops.east |- 0,1065) -| (stubB.north -| 1086,0);
\draw[rel,pke] (terrain.east |- 0,1290) -| (246,1254) -- (maxinc.west |- 0,1254);
\draw[rel,pke] (terrain.east |- 0,1297) -| (623,1105) -- (accmeter.west |- 0,1105);
\foreach \yy in {1111,1116,1121,1126,1131,1136,1141,1146,1151} {\draw[rel,pke] (bl4) |- (accmeter.west |- 0,\yy);}
\draw[srel,pks] (profiles.east |- 0,1169) -| (603,1283) -- (atp.west |- 0,1283);
\draw[srel,pks] (bl5) |- (atp.west |- 0,1289);
\draw[rel,pks] (slide.south -| 613,0) |- (152,991) -- (bl1);
\draw[rel,pks] (slide.south -| 619,0) -- (bl2);
\draw[rel,pks] (transports.south -| 158,0) -- (bl3);
\draw[rel,pke] (wave.east |- 0,708) -| (842,1100) -- (accmeter.west |- 0,1100);
\draw[rel,pke] (wave.south -| 590,0) -- (witypes.north -| 590,0);
\draw[rel,pke] (wave.south -| 595,0) |- (628,772) -- (witypes.north -| 628,0);
\draw[rel,pke] (witypes.south -| 631,0) -- (wrtypes.north -| 631,0);
\draw[rel,pke] (slide.east |- 0,425) -| (835,510) -- (accdate.west |- 0,510);
\draw[rel,pke] (slide.east |- 0,430) -| (829,574) -- (acctime.west |- 0,574);
\draw[rel,pks] (activity.south -| 867,0) |- (forest.west |- 0,792);
\draw[rel,pks] (accnum.south -| 1055,0) -- (accmeter.north -| 1055,0);
\draw[rel,pks] (accspeed.south -| 1068,0) -- (stubB.north -| 1068,0);
\draw[rel,pks] (accvol.south -| 1074,0) -- (stubB.north -| 1074,0);
\draw[rel,pks] (orgtypes.south -| 1784,0) -- (water.north -| 1784,0);
\draw[rel] (debmat.south -| 1599,0) -- (bl6);
\draw[rel] (water.south -| 1803,0) -- (bl7);
\draw[rel] (slope.east |- 0,1430) -| (bl9);
\draw[rel] (monit.east |- 0,1426) -| (bl8);
\end{pgfonlayer}
\end{tikzpicture}
\end{document}
